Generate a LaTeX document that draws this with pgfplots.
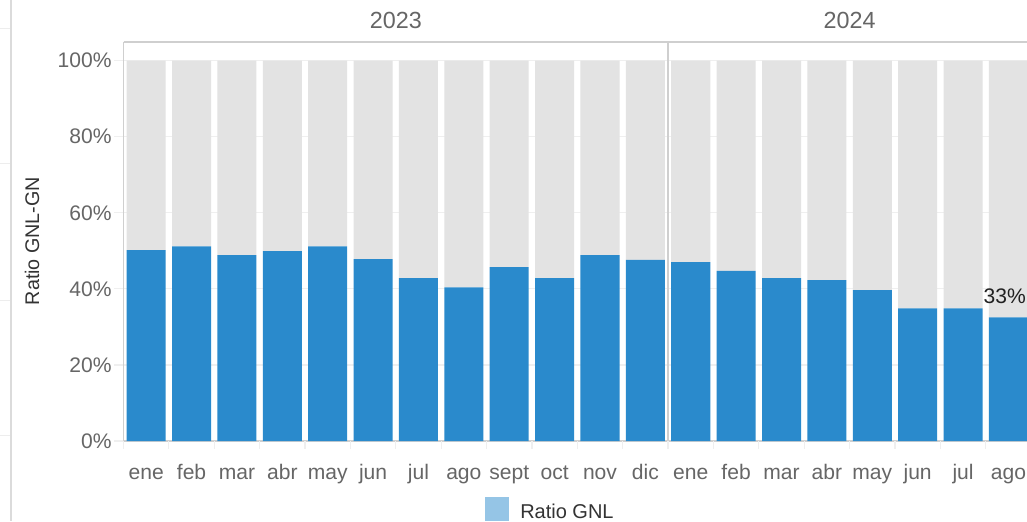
\documentclass[border=0pt]{standalone}
\usepackage{pgfplots}
\usepackage{pgfplotstable}
\pgfplotsset{compat=1.18}
\usepackage{fontspec}
\setmainfont{Liberation Sans}
\definecolor{barblue}{HTML}{2A8ACC}
\definecolor{bargray}{HTML}{E3E3E3}
\definecolor{ticktext}{HTML}{666666}
\definecolor{darktext}{HTML}{333333}
\definecolor{axisgray}{HTML}{CFCFCF}
\definecolor{gridgray}{HTML}{EFEFEF}
\definecolor{legblue}{HTML}{95C5E6}

\pgfplotstableread{
x blue gray
0  50.2 49.8
1  51.2 48.8
2  48.9 51.1
3  49.9 50.1
4  51.2 48.8
5  47.8 52.2
6  42.8 57.2
7  40.4 59.6
8  45.7 54.3
9  42.8 57.2
10 48.9 51.1
11 47.6 52.4
12 47.0 53.0
13 44.7 55.3
14 42.8 57.2
15 42.3 57.7
16 39.7 60.3
17 34.9 65.1
18 34.9 65.1
19 32.5 67.5
}\datatable

\begin{document}
\begin{tikzpicture}
\useasboundingbox (0,0) rectangle (770.25pt,-390.75pt);
\clip (0,0) rectangle (770.25pt,-390.75pt);
\fill[white] (0,0) rectangle (770.25pt,-390.75pt);
% dashboard decorations at the left edge
\draw[color=black!14, line width=1.5pt] (8.6pt,0) -- (8.6pt,-390.75pt);
\foreach \yy in {28,163,300,435}{
  \draw[color=black!7, line width=0.75pt] (0,-\yy*0.75pt) -- (7.5pt,-\yy*0.75pt);
}
\begin{axis}[
  at={(92.625pt,-330.75pt)}, anchor=south west,
  scale only axis, width=680.7pt, height=299.25pt,
  ybar stacked, bar width=0.86,
  enlargelimits=false,
  xmin=-0.5, xmax=19.5, ymin=0, ymax=104.9,
  axis line style={draw=axisgray, line width=1pt},
  axis x line*=bottom,
  axis y line*=left,
  ytick={0,20,40,60,80,100},
  yticklabel={\pgfmathprintnumber{\tick}\%},
  ytick style={draw=gridgray, line width=0.9pt},
  xtick style={draw=none},
  major tick length=6.75pt,
  tick align=outside,
  ymajorgrids, grid style={draw=gridgray, line width=0.9pt},
  xtick={0,...,19},
  xticklabels={ene,feb,mar,abr,may,jun,jul,ago,sept,oct,nov,dic,ene,feb,mar,abr,may,jun,jul,ago},
  /pgf/number format/assume math mode=true,
  tick label style={font=\fontsize{15.8}{18}\selectfont, text=ticktext},
  xticklabel style={anchor=base, yshift=-21.75pt, inner sep=0pt},
  yticklabel style={anchor=east, inner sep=0pt, xshift=-2pt},
  clip=false,
]
\addplot[fill=barblue, draw=none] table[x=x, y=blue] {\datatable};
\addplot[fill=bargray, draw=none] table[x=x, y=gray] {\datatable};
% category boundary ticks
\pgfplotsinvokeforeach{-0.5,0.5,...,19.5}{
  \draw[gridgray, line width=0.9pt] (axis cs:#1,0) -- ([yshift=-6pt]axis cs:#1,0);
}
% top frame and year separator
\draw[axisgray, line width=1pt] (axis cs:-0.5,104.9) -- (axis cs:19.5,104.9);
\draw[axisgray, line width=1pt] (axis cs:11.5,0) -- (axis cs:11.5,104.9);
\coordinate (lab33) at (axis cs:19,32.5);
\coordinate (y23) at (axis cs:5.5,104.9);
\coordinate (y24) at (axis cs:15.5,104.9);
\end{axis}
\node[anchor=base, text=ticktext, font=\fontsize{17.5}{20}\selectfont, inner sep=0pt]
  at ([yshift=10.5pt]y23) {2023};
\node[anchor=base, text=ticktext, font=\fontsize{17.5}{20}\selectfont, inner sep=0pt]
  at ([yshift=10.5pt]y24) {2024};
\node[anchor=base east, text=black!87, font=\fontsize{15.8}{18}\selectfont, inner sep=0pt]
  at ([yshift=10.5pt]769.5pt,0 |- lab33) {33\%};
% y axis title
\node[rotate=90, anchor=center, text=darktext, font=\fontsize{14.8}{17}\selectfont, inner sep=0pt]
  at (24pt,-180.75pt) {Ratio GNL-GN};
% legend
\fill[legblue] (363.75pt,-372.75pt) rectangle (381.75pt,-391pt);
\node[anchor=base west, text=darktext, font=\fontsize{15}{18}\selectfont, inner sep=0pt]
  at (390pt,-388.5pt) {Ratio GNL};
\end{tikzpicture}
\end{document}
